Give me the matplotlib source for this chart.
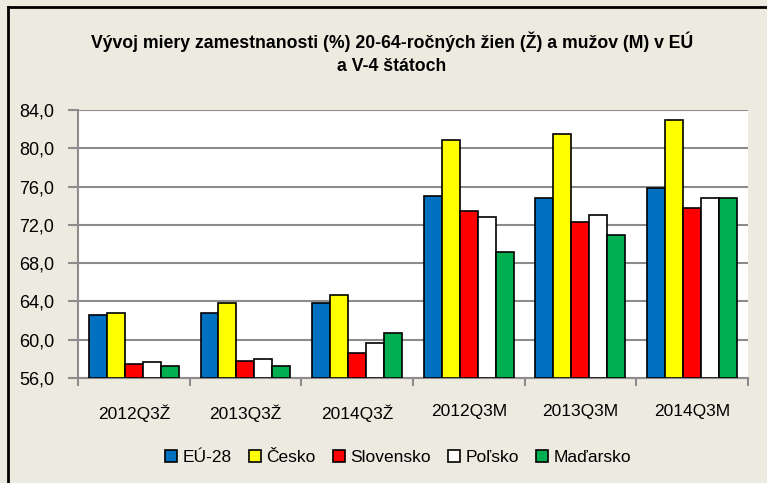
import matplotlib.pyplot as plt
import numpy as np
from matplotlib.lines import Line2D

categories = ["2012Q3Ž", "2013Q3Ž", "2014Q3Ž", "2012Q3M", "2013Q3M", "2014Q3M"]
eu28 = [62.6, 62.8, 63.8, 75.0, 74.8, 75.9]
cesko = [62.8, 63.8, 64.7, 80.9, 81.5, 83.0]
slovensko = [57.5, 57.8, 58.6, 73.4, 72.3, 73.8]
polsko = [57.7, 58.0, 59.7, 72.8, 73.0, 74.8]
madarsko = [57.3, 57.3, 60.7, 69.2, 70.9, 74.8]
series_names = ["EÚ-28", "Česko", "Slovensko", "Poľsko", "Maďarsko"]
colors = ["#0070C0", "#FFFF00", "#FF0000", "#FFFFFF", "#00B050"]
yticks = [56, 60, 64, 68, 72, 76, 80, 84]

plt.rcParams["font.family"] = ["Liberation Sans Narrow", "Liberation Sans", "DejaVu Sans"]

bg = "#EDEBE0"
fig = plt.figure(figsize=(7.67, 4.83), dpi=100, facecolor=bg)
ax = fig.add_axes([0.1017, 0.2174, 0.8733, 0.5549])
ax.set_facecolor("white")

data = [eu28, cesko, slovensko, polsko, madarsko]
x = np.arange(len(categories))
w = 0.161
for i, (vals, c, name) in enumerate(zip(data, colors, series_names)):
    offs = (i - 2) * w
    ax.bar(x + offs, np.array(vals) - 56, width=w, bottom=56, color=c,
           edgecolor="black", linewidth=1.2, label=name, zorder=3)

ax.set_ylim(56, 84)
ax.set_xlim(-0.5, len(categories) - 0.5)
ax.set_yticks(yticks)
ax.set_yticklabels([f"{v:.1f}".replace(".", ",") for v in yticks], fontsize=13)
ax.yaxis.grid(True, color="#8C8C8C", linewidth=1.5, zorder=0)

# category labels between boundary ticks
ax.set_xticks(np.arange(len(categories) + 1) - 0.5)
ax.set_xticklabels([])
ax.set_xticks(x, minor=True)
ax.set_xticklabels(categories, minor=True, fontsize=12.5)
ax.tick_params(axis="x", which="minor", length=0, pad=19)
ax.tick_params(axis="x", which="major", length=6, width=1.5, color="#8C8C8C")
ax.tick_params(axis="y", length=7, width=1.5, color="#8C8C8C", pad=10)

for s in ["top", "right"]:
    ax.spines[s].set_visible(False)
for s in ["left", "bottom"]:
    ax.spines[s].set_color("#8C8C8C")
    ax.spines[s].set_linewidth(1.5)

fig.text(0.511, 0.889, "Vývoj miery zamestnanosti (%) 20-64-ročných žien (Ž) a mužov (M) v EÚ\na V-4 štátoch",
         ha="center", va="center", fontsize=12.7, fontweight="bold", linespacing=1.45)

ax.legend(loc="center", bbox_to_anchor=(0.519, 0.052), bbox_transform=fig.transFigure,
          ncol=5, frameon=False, fontsize=12.5, handlelength=0.7, handleheight=0.7,
          handletextpad=0.3, columnspacing=1.0, borderpad=0)

fig.add_artist(Line2D([0.0104, 0.0104], [0, 0.985], transform=fig.transFigure, color="black", linewidth=2))
fig.add_artist(Line2D([0.0104, 1.0], [0.985, 0.985], transform=fig.transFigure, color="black", linewidth=2))

fig.savefig("out.png", dpi=100, facecolor=bg)
